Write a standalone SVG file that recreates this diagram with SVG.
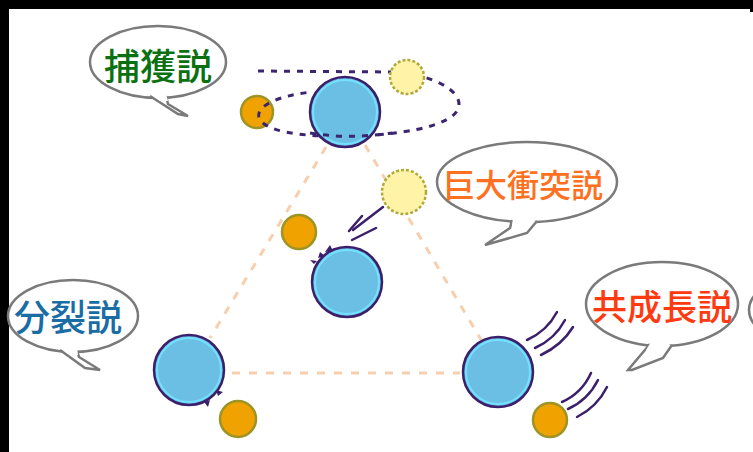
<svg xmlns="http://www.w3.org/2000/svg" width="753" height="452" viewBox="0 0 753 452">
  <style>
    .bubble { fill: #ffffff; stroke: #7a7a7a; stroke-width: 2.5; }
    .tail { fill: #ffffff; stroke: #7a7a7a; stroke-width: 2.5; stroke-linejoin: miter; }
    .label { font-family: "Noto Sans CJK JP", "Noto Sans", sans-serif; font-weight: 500; text-anchor: middle; }
    .earth { fill: #6cbfe4; stroke: #3b1f6b; stroke-width: 2.5; }
    .earth-rim { fill: none; stroke: #72e2ff; stroke-width: 2; }
    .moon { fill: #f0a200; stroke: #9c9424; stroke-width: 2.5; }
    .moon-new { fill: #fff3a8; stroke: #b0aa3a; stroke-width: 2.5; stroke-dasharray: 3 2; }
    .guide { fill: none; stroke: #f6cfae; stroke-width: 3; stroke-dasharray: 8 9; }
    .orbit { fill: none; stroke: #3b2470; stroke-width: 3; stroke-dasharray: 6 7; }
    .motion { fill: none; stroke: #3b1f6b; stroke-width: 2.5; stroke-linecap: round; }
    .spike { fill: #3b1f6b; }
  </style>

  <rect x="0" y="0" width="753" height="452" fill="#ffffff"/>
  <!-- frame -->
  <rect x="0" y="0" width="753" height="9" fill="#000000"/>
  <rect x="0" y="0" width="9" height="452" fill="#000000"/>
  <rect x="750" y="0" width="3" height="12" fill="#000000"/>

  <!-- connectors: guide triangle between the theory scenes -->
  <g id="connectors">
    <line class="guide" x1="326" y1="147" x2="210" y2="338"/>
    <line class="guide" x1="365" y1="145" x2="483" y2="343"/>
    <line class="guide" x1="232" y1="373" x2="460" y2="373"/>
  </g>

  <!-- capture theory: moon on a captured orbit -->
  <g id="capture">
    <circle class="moon" cx="257" cy="112" r="16"/>
    <path class="orbit" d="M258,71 L392,72 C432,74 460,90 459,105 C458,122 420,133 360,136 C300,138 264,131 259,118 C255,105 282,95 312,92"/>
    <circle class="moon-new" cx="407" cy="77" r="17"/>
    <circle class="earth" cx="345" cy="112" r="35"/>
    <circle class="earth-rim" cx="345" cy="112" r="32"/>
    <path class="orbit" d="M310,133 C330,136 345,137 360,136 C372,135.5 382,134.5 392,133"/>
  </g>

  <!-- giant impact theory -->
  <g id="giant-impact">
    <circle class="moon" cx="299" cy="232" r="17"/>
    <circle class="moon-new" cx="404" cy="192" r="22"/>
    <line class="motion" x1="383" y1="207" x2="353" y2="230"/>
    <line class="motion" x1="362" y1="216" x2="349" y2="231"/>
    <line class="motion" x1="376" y1="228" x2="352" y2="240"/>
    <circle class="earth" cx="347" cy="282" r="35"/>
    <circle class="earth-rim" cx="347" cy="282" r="32"/>
    <polygon class="spike" points="325,252 330,245 333,251"/>
    <polygon class="spike" points="318,258 320,252 325,256"/>
    <polygon class="spike" points="314,264 310,260 317,261"/>
  </g>

  <!-- fission theory -->
  <g id="fission">
    <circle class="earth" cx="189" cy="370" r="35"/>
    <circle class="earth-rim" cx="189" cy="370" r="32"/>
    <polygon class="spike" points="216,390 223,392 218,396"/>
    <polygon class="spike" points="204,402 208,407 210,400"/>
    <circle class="moon" cx="238" cy="419" r="18"/>
  </g>

  <!-- co-accretion theory -->
  <g id="co-accretion">
    <circle class="earth" cx="498" cy="372" r="35"/>
    <circle class="earth-rim" cx="498" cy="372" r="32"/>
    <path class="motion" d="M527,340 Q547,331 557,312"/>
    <path class="motion" d="M535,348 Q555,339 565,320"/>
    <path class="motion" d="M541,355 Q562,345 573,327"/>
    <circle class="moon" cx="550" cy="420" r="17"/>
    <path class="motion" d="M562,402 Q582,393 591,373"/>
    <path class="motion" d="M568,409 Q588,400 598,380"/>
    <path class="motion" d="M577,417 Q597,407 607,387"/>
  </g>

  <!-- speech bubbles -->
  <g id="bubble-capture">
    <ellipse class="bubble" cx="158" cy="62" rx="68" ry="36"/>
    <path class="tail" d="M150,96 L178,114 L188,116 L168,104 L166,96"/>
    <path d="M151,94 L166,94 L168,101 L160,101 Z" fill="#ffffff"/>
    <text class="label" x="158" y="80" font-size="36" fill="#0a7010">捕獲説</text>
  </g>

  <g id="bubble-impact">
    <ellipse class="bubble" cx="527" cy="182" rx="90" ry="40"/>
    <path class="tail" d="M512,220 L510,228 L485,245 L527,233 L537,221"/>
    <path d="M513,218 L536,218 L528,228 L512,226 Z" fill="#ffffff"/>
    <text class="label" x="523" y="197" font-size="32" fill="#ff7020">巨大衝突説</text>
  </g>

  <g id="bubble-fission">
    <ellipse class="bubble" cx="73" cy="316" rx="65" ry="36"/>
    <path class="tail" d="M60,350 L85,368 L100,370 L79,357 L77,351"/>
    <path d="M61,348 L77,348 L78,355 L68,354 Z" fill="#ffffff"/>
    <text class="label" x="68" y="331" font-size="36" fill="#1a6ca4">分裂説</text>
  </g>

  <g id="bubble-coaccretion">
    <ellipse class="bubble" cx="662" cy="304" rx="76" ry="42"/>
    <path class="tail" d="M650,344 L628,370 L632,370 L663,358 L672,345"/>
    <path d="M651,342 L671,342 L662,354 L646,350 Z" fill="#ffffff"/>
    <text class="label" x="662" y="320" font-size="35" fill="#ff3a10">共成長説</text>
  </g>

  <g id="bubble-edge">
    <ellipse class="bubble" cx="800" cy="310" rx="51" ry="32"/>
  </g>
</svg>
